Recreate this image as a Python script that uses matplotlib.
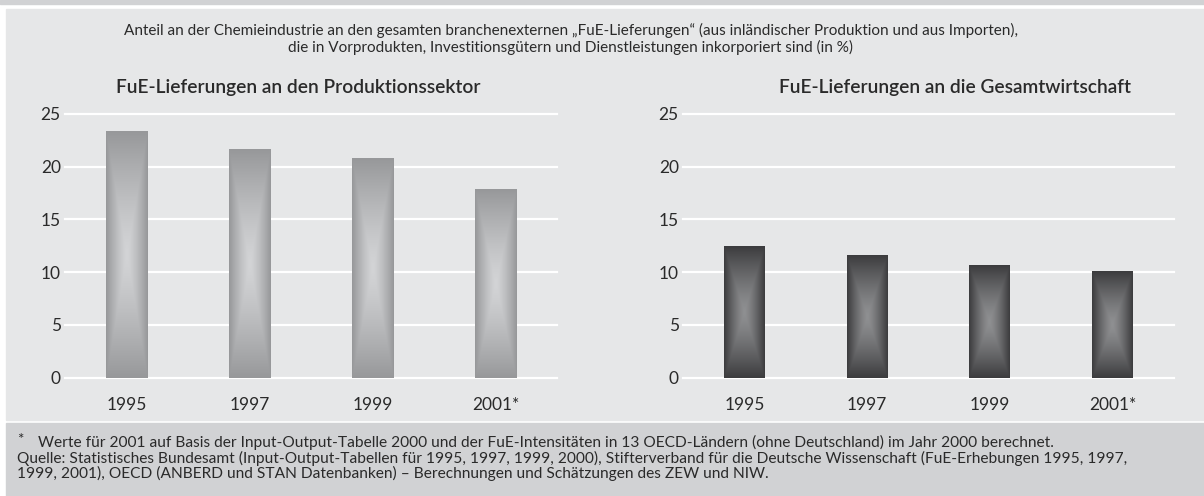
import numpy as np
import matplotlib
matplotlib.use("Agg")
import matplotlib.pyplot as plt
from matplotlib.patches import Rectangle
from matplotlib.colors import LinearSegmentedColormap

plt.rcParams['font.family'] = ['Lato', 'DejaVu Sans']

# data
years = ["1995", "1997", "1999", "2001*"]
produktion = [23.4, 21.7, 20.8, 17.9]
gesamt = [12.5, 11.6, 10.7, 10.1]
yticks = [0, 5, 10, 15, 20, 25]

subtitle = ("Anteil an der Chemieindustrie an den gesamten branchenexternen \u201eFuE-Lieferungen\u201c "
            "(aus inländischer Produktion und aus Importen),\n"
            "die in Vorprodukten, Investitionsgütern und Dienstleistungen inkorporiert sind (in %)")
title_left = "FuE-Lieferungen an den Produktionssektor"
title_right = "FuE-Lieferungen an die Gesamtwirtschaft"
note = "Werte für 2001 auf Basis der Input-Output-Tabelle 2000 und der FuE-Intensitäten in 13 OECD-Ländern (ohne Deutschland) im Jahr 2000 berechnet."
quelle1 = ("Quelle: Statistisches Bundesamt (Input-Output-Tabellen für 1995, 1997, 1999, 2000), "
           "Stifterverband für die Deutsche Wissenschaft (FuE-Erhebungen 1995, 1997,")
quelle2 = "1999, 2001), OECD (ANBERD und STAN Datenbanken) \u2013 Berechnungen und Schätzungen des ZEW und NIW."

W, H = 1204, 496
PANEL = "#e6e7e8"
BAND = "#d1d2d4"
TXT = "#2a2a2a"


def fx(px):
    return px / W


def fy(py):
    return 1 - py / H


fig = plt.figure(figsize=(W / 100, H / 100), dpi=100)
fig.patch.set_facecolor("white")

# hintergrund
fig.patches.append(Rectangle((0, fy(4)), 1, 4 / H, transform=fig.transFigure, color=BAND, zorder=-5))
fig.patches.append(Rectangle((fx(6), fy(420)), 1, (420 - 9) / H, transform=fig.transFigure, color=PANEL, zorder=-5))
fig.patches.append(Rectangle((fx(6), 0), 1, (H - 423) / H, transform=fig.transFigure, color=BAND, zorder=-5))


def gradient_bars(ax, values, light, dark):
    cmap = LinearSegmentedColormap.from_list("g", [light, dark])
    bars = ax.bar(range(len(values)), values, width=0.334, color="none", zorder=2)
    nx, ny = 60, 300
    u = np.abs(np.linspace(-1, 1, nx))[None, :]
    v = np.abs(np.linspace(-1, 1, ny))[:, None]
    t = np.maximum(u, v) ** 1.3
    for b in bars:
        x0, w, h = b.get_x(), b.get_width(), b.get_height()
        ax.imshow(t, cmap=cmap, extent=(x0, x0 + w, 0, h), origin="lower",
                  aspect="auto", interpolation="bilinear", zorder=2, vmin=0, vmax=1)


def setup(ax, values, light, dark):
    ax.set_facecolor("none")
    for y in yticks:
        ax.axhline(y, color="white", lw=1.6, zorder=1, clip_on=False)
    gradient_bars(ax, values, light, dark)
    ax.set_xlim(-0.5, 3.5)
    ax.set_ylim(0, 25)
    ax.set_yticks(yticks)
    ax.set_xticks(range(len(years)))
    ax.set_xticklabels(years)
    ax.tick_params(length=0, labelsize=12.5, labelcolor=TXT)
    ax.tick_params(axis="y", pad=3)
    ax.tick_params(axis="x", pad=14)
    for s in ax.spines.values():
        s.set_visible(False)


bottom = fy(377.5)
top = fy(114)
ax1 = fig.add_axes([fx(65), bottom, fx(557) - fx(65), top - bottom])
ax2 = fig.add_axes([fx(683), bottom, fx(1174) - fx(683), top - bottom])
setup(ax1, produktion, "#d3d4d6", "#97989a")
setup(ax2, gesamt, "#8f9092", "#3c3c3e")

fig.text(fx(571), fy(39), subtitle, ha="center", va="center", fontsize=11,
         color=TXT, linespacing=1.2)
fig.text(fx(298), fy(87), title_left, ha="center", va="center", fontsize=13.8,
         fontweight="semibold", color=TXT)
fig.text(fx(955), fy(87), title_right, ha="center", va="center", fontsize=13.8,
         fontweight="semibold", color=TXT)

fig.text(fx(17), fy(440), "*", ha="left", va="center", fontsize=11, color=TXT)
fig.text(fx(38), fy(442), note, ha="left", va="center", fontsize=11.2, color=TXT)
fig.text(fx(17), fy(458), quelle1, ha="left", va="center", fontsize=11.2, color=TXT)
fig.text(fx(17), fy(473), quelle2, ha="left", va="center", fontsize=11.2, color=TXT)

fig.savefig("out.png", dpi=100)
